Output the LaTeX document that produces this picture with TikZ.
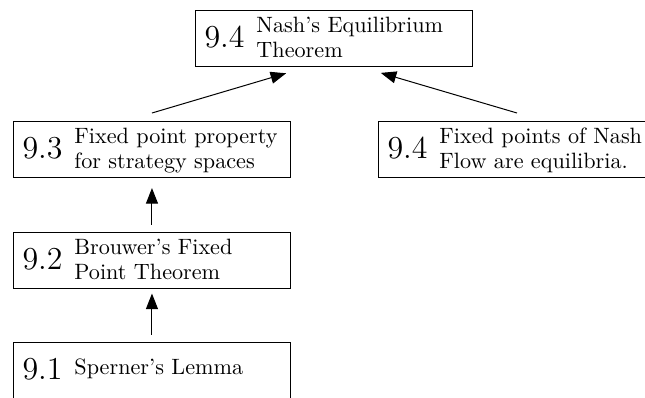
\documentclass[tikz,border=0pt]{standalone}
\usetikzlibrary{arrows.meta,calc}

% width of every result box
\newlength{\bw}\setlength{\bw}{124.9pt}

% box body: large section number, then a two-line title
\newcommand{\thmbox}[3]{\makebox[\bw][l]{\smash{%
  \rlap{\hspace{4.1pt}\raisebox{-4.06pt}{\Large #1}}%
  \rlap{\hspace{27.5pt}\raisebox{2.7pt}{#2}}%
  \rlap{\hspace{27.5pt}\raisebox{-8.57pt}{#3}}}}}

% box body with a one-line title
\newcommand{\onelinebox}[2]{\makebox[\bw][l]{\smash{%
  \rlap{\hspace{4.1pt}\raisebox{-4.06pt}{\Large #1}}%
  \rlap{\hspace{27.5pt}\raisebox{-1.8pt}{#2}}}}}

\begin{document}
\begin{tikzpicture}[x=0.451pt,y=-0.451pt,
  thm/.style={draw,line width=0.45pt,inner sep=0pt,
    minimum width=124.9pt,minimum height=25.3pt,anchor=north west},
  dep/.style={-{Triangle[length=7pt,width=5.4pt]},line width=0.45pt}]
\useasboundingbox (0,0) rectangle (645,397);
\clip (0,0) rectangle (645,397);

\node[thm] (nash)    at (195,10)  {\thmbox{9.4}{Nash's Equilibrium}{Theorem}};
\node[thm] (fpp)     at (13,121)  {\thmbox{9.3}{Fixed point property}{for strategy spaces}};
\node[thm] (flow)    at (378,121) {\thmbox{9.4}{Fixed points of Nash}{Flow are equilibria.}};
\node[thm] (brouwer) at (13,232)  {\thmbox{9.2}{Brouwer's Fixed}{Point Theorem}};
\node[thm] (sperner) at (13,342)  {\onelinebox{9.1}{Sperner's Lemma}};

\draw[dep,shorten <=3.2pt,shorten >=4.5pt] (brouwer.north) -- (fpp.south);
\draw[dep,shorten <=3.2pt,shorten >=2pt] (sperner.north) -- (brouwer.south);
\draw[dep,shorten >=22.5pt] ($(fpp.north)+(0,-8)$) -- ($(nash.south)+(0,-8)$);
\draw[dep,shorten >=22pt] ($(flow.north)+(0,-8)$) -- ($(nash.south)+(0,-8)$);
\end{tikzpicture}
\end{document}
